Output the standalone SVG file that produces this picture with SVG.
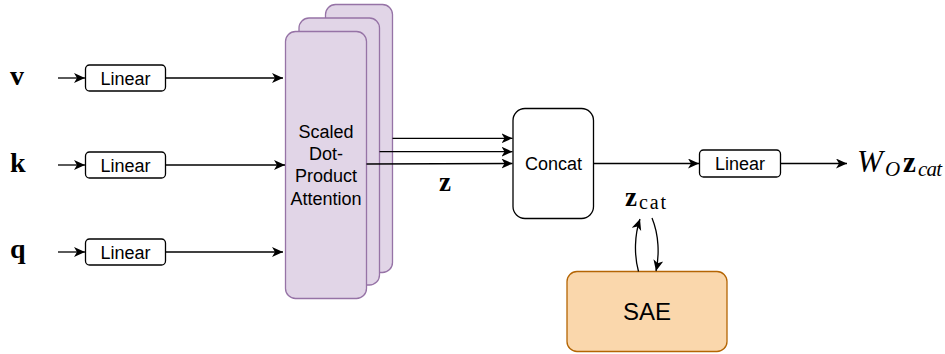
<svg xmlns="http://www.w3.org/2000/svg" width="945" height="354" viewBox="0 0 945 354">
<style>
.box{fill:#ffffff;stroke:#000000;stroke-width:1.3}
.att{fill:#e1d5e7;stroke:#9673a6;stroke-width:1.3}
.sae{fill:#fad7ac;stroke:#b46504;stroke-width:1.3}
.lbl{font-family:"Liberation Sans",Arial,sans-serif;font-size:18px;fill:#000;text-anchor:middle}
.math{font-family:"Liberation Serif","Times New Roman",serif;fill:#000}
.conn path,.conn line{fill:none;stroke:#000;stroke-width:1.3;marker-end:url(#ah)}
</style>
<defs>
<marker id="ah" markerUnits="userSpaceOnUse" markerWidth="12" markerHeight="11" refX="11" refY="5" orient="auto" viewBox="0 0 12 11">
<path d="M0,0 L11,5 L0,10 L3,5 Z" fill="#000"/>
</marker>
</defs>
<rect width="945" height="354" fill="#ffffff"/>

<g id="label-v"><text class="math" x="10" y="85" font-size="28" font-weight="bold">v</text></g>
<g id="label-k"><text class="math" x="10" y="172" font-size="28" font-weight="bold">k</text></g>
<g id="label-q"><text class="math" x="10" y="258" font-size="28" font-weight="bold">q</text></g>

<g id="linear-v"><rect class="box" x="85.5" y="65" width="80" height="26" rx="4"/><text class="lbl" x="125.5" y="84.5">Linear</text></g>
<g id="linear-k"><rect class="box" x="85.5" y="152" width="80" height="26" rx="4"/><text class="lbl" x="125.5" y="171.5">Linear</text></g>
<g id="linear-q"><rect class="box" x="85.5" y="239" width="80" height="26" rx="4"/><text class="lbl" x="125.5" y="258.5">Linear</text></g>

<g id="attention">
<rect class="att" x="325.5" y="4.5" width="67" height="268" rx="10"/>
<rect class="att" x="299" y="18" width="80.5" height="267" rx="10"/>
<rect class="att" x="285.5" y="31.5" width="81" height="267" rx="10"/>
<text class="lbl" x="326" y="138">Scaled</text>
<text class="lbl" x="326" y="160">Dot-</text>
<text class="lbl" x="326" y="182">Product</text>
<text class="lbl" x="326" y="204.5">Attention</text>
</g>

<g id="concat"><rect class="box" x="513" y="108.5" width="80.5" height="110" rx="12"/><text class="lbl" x="553.5" y="170">Concat</text></g>

<g id="linear-out"><rect class="box" x="699.5" y="150" width="81" height="27" rx="4"/><text class="lbl" x="740" y="170">Linear</text></g>

<g id="sae"><rect class="sae" x="567" y="271.5" width="160" height="80" rx="10"/><text class="lbl" x="647" y="320" style="font-size:24px">SAE</text></g>

<g id="label-z"><text class="math" x="439" y="191" font-size="27" font-weight="bold">z</text></g>

<g id="label-zcat"><text class="math" x="625" y="206" font-size="27"><tspan font-weight="bold">z</tspan><tspan x="639" y="209" font-size="20" textLength="27" lengthAdjust="spacing">cat</tspan></text></g>

<g id="label-out"><text class="math" x="857" y="172" font-size="31"><tspan font-style="italic">W</tspan><tspan x="885" y="176" font-size="21" font-style="italic">O</tspan><tspan x="903" y="172" font-size="29" font-weight="bold">z</tspan><tspan x="918" y="176" font-size="21" font-style="italic" textLength="24" lengthAdjust="spacing">cat</tspan></text></g>

<g id="connectors" class="conn">
<line x1="58" y1="78" x2="85" y2="78"/>
<line x1="58" y1="165" x2="85" y2="165"/>
<line x1="58" y1="252" x2="85" y2="252"/>
<line x1="165.5" y1="78" x2="283" y2="78"/>
<line x1="165.5" y1="165" x2="285" y2="165"/>
<line x1="165.5" y1="252" x2="283" y2="252"/>
<line x1="392.5" y1="138.3" x2="512.5" y2="138.3"/>
<line x1="379.5" y1="151.7" x2="512.5" y2="151.7"/>
<line x1="366.5" y1="164" x2="512.5" y2="163.5"/>
<line x1="593.5" y1="163.5" x2="699" y2="163.5"/>
<line x1="780.5" y1="163.5" x2="847" y2="163.5"/>
<path d="M638.5,271.5 C634,255 634.5,235 640,219"/>
<path d="M652,218 C659,235 659.5,255 656,271"/>
</g>
</svg>
